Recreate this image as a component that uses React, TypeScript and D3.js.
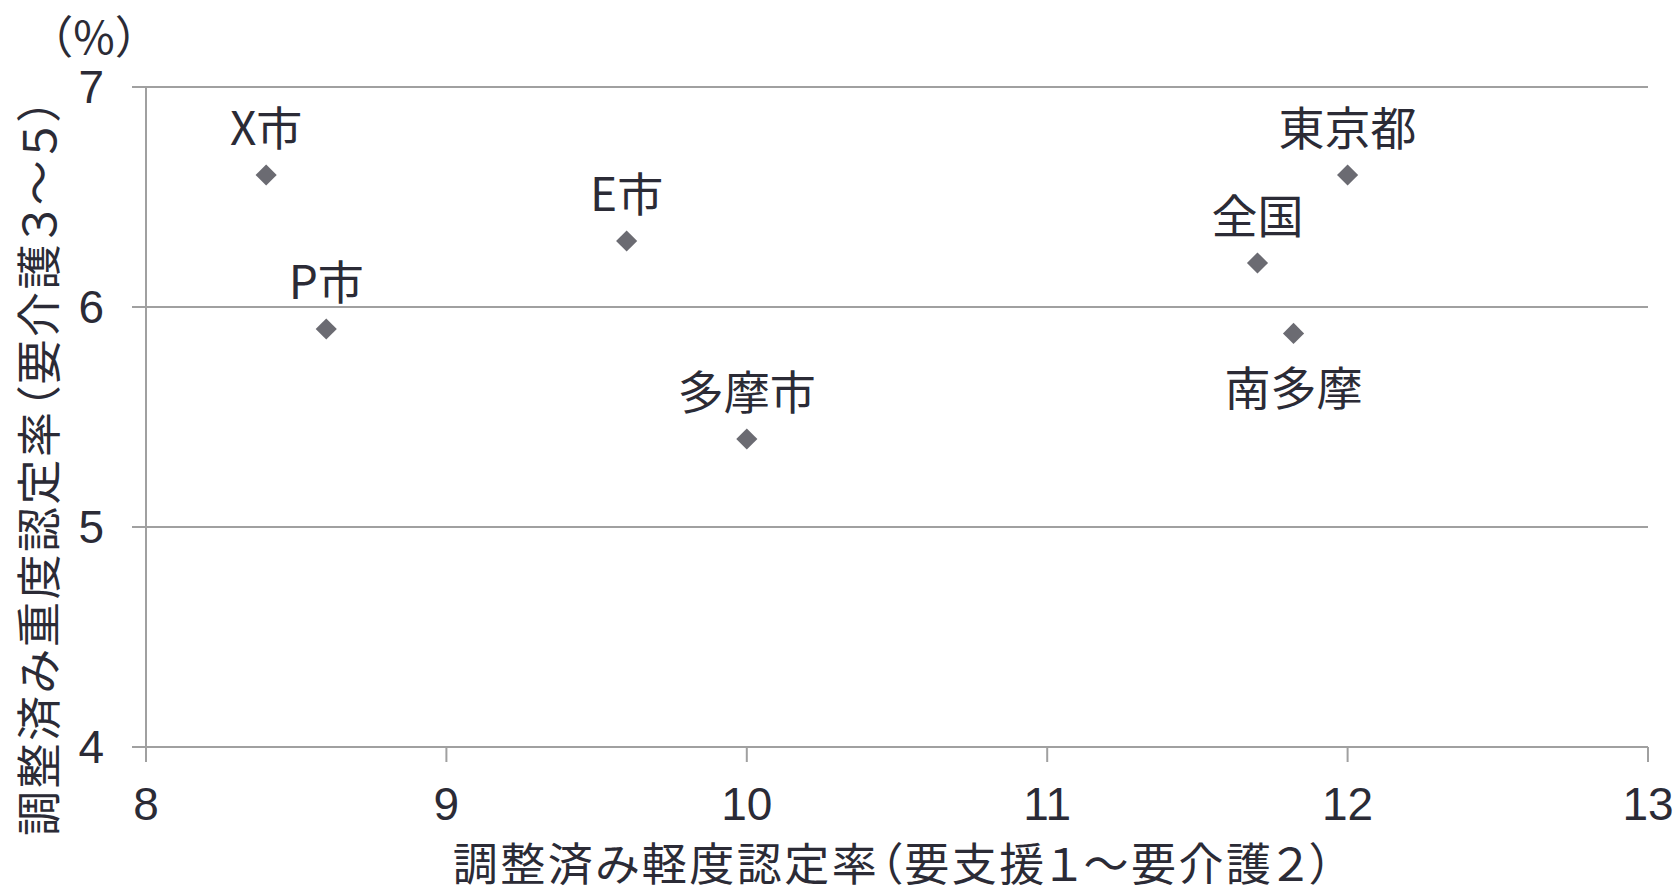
import React from "react";
import * as d3 from "d3";

const names = ["X市", "P市", "E市", "多摩市", "全国", "南多摩", "東京都"];
const lightRate = [8.4, 8.6, 9.6, 10.0, 11.7, 11.82, 12.0];
const heavyRate = [6.6, 5.9, 6.3, 5.4, 6.2, 5.88, 6.6];
const labelBelow = [false, false, false, false, false, true, false];
const xTicks = [8, 9, 10, 11, 12, 13];
const yTicks = [4, 5, 6, 7];
const xTitle = "調整済み軽度認定率（要支援１～要介護２）";
const yTitle = "調整済み重度認定率（要介護３～５）";
const unitLabel = "（%）";

const W = 1677;
const H = 891;
const left = 146;
const right = 1648;
const top = 87;
const bottom = 747;

const TEXT = "#2b2b36";
const GRID = "#a0a0a0";
const MARK = "#6b6b72";
const CJK = "'Noto Sans CJK JP', 'Noto Sans', sans-serif";
const NUM = "'Liberation Sans', Arial, sans-serif";
const palt = { fontFeatureSettings: "'palt'" } as React.CSSProperties;
const titleStyle = { fontFeatureSettings: "'palt'", letterSpacing: "2.5px" } as React.CSSProperties;

export default function App() {
  const x = d3.scaleLinear().domain([8, 13]).range([left, right]);
  const y = d3.scaleLinear().domain([4, 7]).range([bottom, top]);
  const diamond = d3.symbol().type(d3.symbolDiamond2).size(285)();

  return (
    <svg
      width={W}
      height={H}
      viewBox={`0 0 ${W} ${H}`}
      style={{ position: "absolute", left: 0, top: 0, background: "#fff" }}
    >
      {yTicks.map((t) => (
        <line
          key={"g" + t}
          x1={left - 14}
          x2={right}
          y1={y(t)}
          y2={y(t)}
          stroke={GRID}
          strokeWidth={2}
        />
      ))}
      <line x1={left} x2={left} y1={top} y2={bottom + 15} stroke={GRID} strokeWidth={2} />
      {xTicks.map((t) => (
        <line
          key={"xt" + t}
          x1={x(t)}
          x2={x(t)}
          y1={bottom}
          y2={bottom + 15}
          stroke={GRID}
          strokeWidth={2}
        />
      ))}
      {yTicks.map((t) => (
        <text
          key={"yl" + t}
          x={left - 42}
          y={y(t) + 16}
          textAnchor="end"
          fontFamily={NUM}
          fontSize={46}
          fill={TEXT}
        >
          {t}
        </text>
      ))}
      {xTicks.map((t) => (
        <text
          key={"xl" + t}
          x={x(t)}
          y={bottom + 73}
          textAnchor="middle"
          fontFamily={NUM}
          fontSize={46}
          fill={TEXT}
        >
          {t}
        </text>
      ))}
      {names.map((n, i) => (
        <g key={n}>
          <path
            d={diamond}
            transform={`translate(${x(lightRate[i])},${y(heavyRate[i])})`}
            fill={MARK}
          />
          <text
            x={x(lightRate[i])}
            y={y(heavyRate[i]) + (labelBelow[i] ? 52 : -50)}
            textAnchor="middle"
            dominantBaseline="central"
            fontFamily={CJK}
            fontSize={46}
            fill={TEXT}
            style={palt}
          >
            {n}
          </text>
        </g>
      ))}
      <text
        x={894}
        y={861}
        textAnchor="middle"
        dominantBaseline="central"
        fontFamily={CJK}
        fontSize={45}
        fill={TEXT}
        style={titleStyle}
      >
        {xTitle}
      </text>
      <text
        transform={`translate(36,466) rotate(-90)`}
        textAnchor="middle"
        dominantBaseline="central"
        fontFamily={CJK}
        fontSize={45}
        fill={TEXT}
        style={titleStyle}
      >
        {yTitle}
      </text>
      <text
        x={94}
        y={34}
        textAnchor="middle"
        dominantBaseline="central"
        fontFamily={CJK}
        fontSize={45}
        fill={TEXT}
      >
        {unitLabel}
      </text>
    </svg>
  );
}
